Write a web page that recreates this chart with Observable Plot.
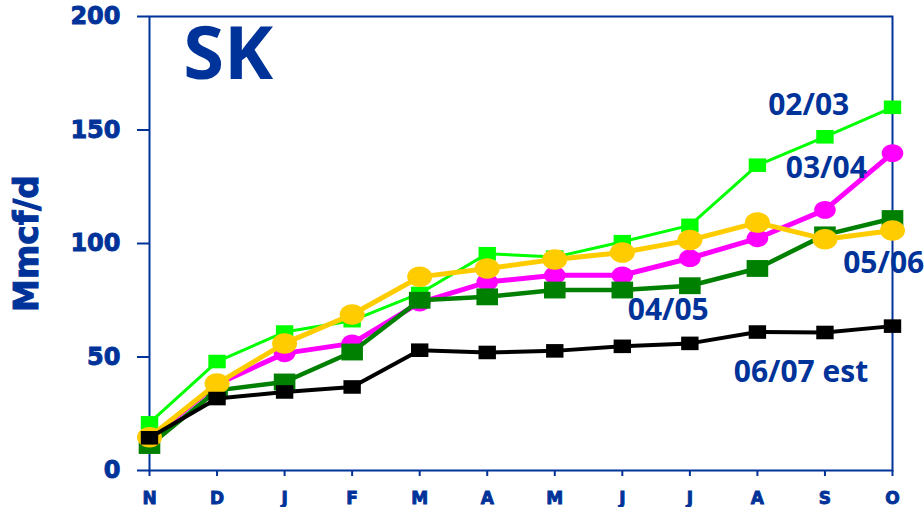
<!DOCTYPE html>
<html>
<head>
<meta charset="utf-8">
<script src="https://cdn.jsdelivr.net/npm/d3@7"></script>
<script src="https://cdn.jsdelivr.net/npm/@observablehq/plot@0.6"></script>
<style>
  html, body { margin: 0; padding: 0; background: #fff; }
  #chart svg [aria-label="y-axis tick label"] text,
  #chart svg [aria-label="x-axis tick label"] text { stroke: #003399; stroke-width: 0.9px; }
  #chart svg .ylab text { stroke: #003399; stroke-width: 1px; }
</style>
</head>
<body>
<div id="chart"></div>
<script>
// ---- data ----
const months = ["N","D","J","F","M","A","M","J","J","A","S","O"];
const yTicks = [0, 50, 100, 150, 200];
const s0203 = [21, 48, 61, 66, 78, 95.5, 94, 100.8, 108, 134.5, 147, 160];
const s0304 = [14, 38, 51.6, 56, 74, 83, 86, 86, 93.5, 102.3, 114.8, 139.8];
const s0405 = [11, 35.3, 39, 52.2, 75, 76.5, 79.5, 79.5, 81.4, 89, 103.8, 111];
const s0506 = [14.7, 38.3, 56, 68.7, 85.3, 89, 93, 96, 101.5, 109.2, 101.9, 105.7];
const s0607 = [14.4, 31.7, 34.6, 36.8, 53, 52, 52.7, 54.7, 56, 61, 60.8, 63.6];
const labelText = ["02/03", "03/04", "05/06", "04/05", "06/07 est"];
const labelX = [9.16, 9.42, 10.27, 7.08, 8.65];   // month index
const labelY = [161, 133.2, 91.2, 70.5, 43.1];    // Mmcf/d
const title = "SK";
const titleX = 0.5, titleY = 183;
const yLabel = "Mmcf/d";

// ---- styling ----
const blue = "#003399";
const rows = (vals) => vals.map((v, i) => ({i, v}));

const rectSym = {
  draw(ctx, size) {
    const r = Math.sqrt(size / Math.PI), h = r * 0.78;
    ctx.rect(-r, -h, 2 * r, 2 * h);
  }
};
const ellSym = {
  draw(ctx, size) {
    const rx = Math.sqrt(size / Math.PI), ry = rx * 0.82, k = 0.5523;
    ctx.moveTo(rx, 0);
    ctx.bezierCurveTo(rx, k * ry, k * rx, ry, 0, ry);
    ctx.bezierCurveTo(-k * rx, ry, -rx, k * ry, -rx, 0);
    ctx.bezierCurveTo(-rx, -k * ry, -k * rx, -ry, 0, -ry);
    ctx.bezierCurveTo(k * rx, -ry, rx, -k * ry, rx, 0);
    ctx.closePath();
  }
};

const series = [
  {vals: s0203, color: "#00ff00", sw: 3,   sym: rectSym, r: 8.7},
  {vals: s0304, color: "#ff00ff", sw: 5,   sym: ellSym,  r: 10.8},
  {vals: s0405, color: "#008000", sw: 4.5, sym: rectSym, r: 10.8},
  {vals: s0506, color: "#ffcc00", sw: 5,   sym: ellSym,  r: 12.5},
  {vals: s0607, color: "#000000", sw: 4,   sym: rectSym, r: 8.7}
];

const marks = [];
for (const s of series) {
  const d = rows(s.vals);
  marks.push(Plot.line(d, {x: "i", y: "v", stroke: s.color, strokeWidth: s.sw}));
  marks.push(Plot.dot(d, {x: "i", y: "v", fill: s.color, stroke: "none", symbol: s.sym, r: s.r}));
}

const labels = labelText.map((t, k) => ({t, x: labelX[k], y: labelY[k]}));

const chart = Plot.plot({
  width: 924,
  height: 507,
  marginLeft: 149,
  marginRight: 32,
  marginTop: 16,
  marginBottom: 37,
  style: {fontFamily: "DejaVu Sans", fontWeight: "bold", color: blue, background: "#fff", overflow: "visible"},
  x: {type: "linear", domain: [0, 11]},
  y: {domain: [0, 200]},
  marks: [
    Plot.frame({stroke: blue, strokeWidth: 2}),
    Plot.axisY(yTicks, {tickSize: 12, tickPadding: 17, strokeWidth: 2, fontSize: 24, fontWeight: "bold", label: null}),
    Plot.axisX(d3.range(months.length), {tickSize: 6, tickPadding: 15, strokeWidth: 2, fontSize: 17, fontWeight: "bold", tickFormat: i => months[i], label: null}),
    ...marks,
    Plot.text(labels, {x: "x", y: "y", text: "t", textAnchor: "start", lineAnchor: "middle", fill: blue,
      fontFamily: "Open Sans", fontWeight: "bold", fontSize: 30}),
    Plot.text([title], {x: titleX, y: titleY, text: d => d, textAnchor: "start", lineAnchor: "middle", fill: blue,
      fontFamily: "Open Sans", fontWeight: "bold", fontSize: 74}),
    Plot.text([yLabel], {frameAnchor: "left", dx: -122.5, rotate: -90, text: d => d, textAnchor: "middle", lineAnchor: "middle", fill: blue,
      fontFamily: "DejaVu Sans", fontWeight: "bold", fontSize: 33, letterSpacing: "-1.5px", className: "ylab"})
  ]
});
document.getElementById("chart").appendChild(chart);
</script>
</body>
</html>
